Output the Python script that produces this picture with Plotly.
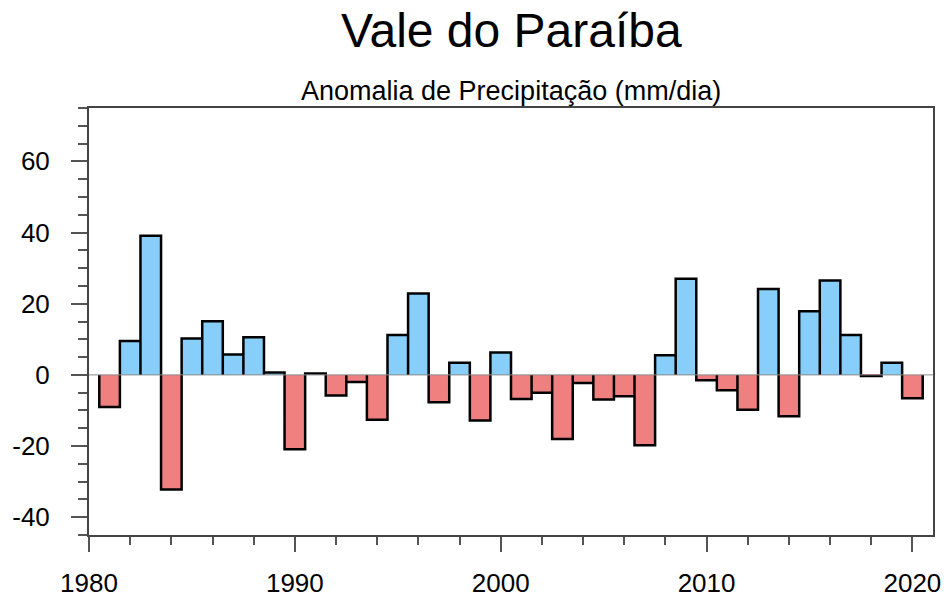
import plotly.graph_objects as go

# ---- data ----
years = list(range(1981, 2021))
anomaly = [
    -9.0, 9.5, 39.1, -32.2, 10.2, 15.1, 5.7, 10.6, 0.7, -20.9,
    0.4, -5.8, -2.0, -12.6, 11.2, 22.9, -7.7, 3.4, -12.8, 6.3,
    -6.8, -5.0, -18.0, -2.3, -6.9, -6.0, -19.8, 5.5, 27.0, -1.5,
    -4.3, -9.8, 24.1, -11.6, 17.9, 26.5, 11.2, -0.3, 3.4, -6.6,
]
title_text = "Vale do Paraíba"
subtitle_text = "Anomalia de Precipitação (mm/dia)"
x_ticks = [1980, 1990, 2000, 2010, 2020]
y_ticks = [-40, -20, 0, 20, 40, 60]

POS_COLOR = "#87CEFA"
NEG_COLOR = "#F08080"
FONT = "Liberation Sans, Arial, Helvetica, sans-serif"

colors = [POS_COLOR if v >= 0 else NEG_COLOR for v in anomaly]

fig = go.Figure()
fig.add_trace(go.Bar(
    x=years, y=anomaly, width=1.0,
    marker=dict(color=colors, line=dict(width=0)),
    hoverinfo="x+y", showlegend=False,
))

# outline of bars (no bottom edge), built from the data
ox, oy = [], []
for yr, v in zip(years, anomaly):
    ox += [yr - 0.5, yr - 0.5, yr + 0.5, yr + 0.5]
    oy += [0, v, v, 0]
fig.add_trace(go.Scatter(
    x=ox, y=oy, mode="lines",
    line=dict(color="black", width=2.5),
    hoverinfo="skip", showlegend=False,
))

# reference line at zero (above the bars)
fig.add_shape(type="line", xref="paper", x0=0, x1=1, yref="y", y0=0, y1=0,
              line=dict(color="#888888", width=1), layer="above")

PLOT_TOP = 108
PLOT_H = 427

def paper_y(px):
    return 1 + (PLOT_TOP - px) / PLOT_H

fig.add_annotation(text=title_text, xref="paper", yref="paper", x=0.5, y=paper_y(30),
                   xanchor="center", yanchor="middle", showarrow=False,
                   font=dict(family=FONT, size=48, color="black"))
fig.add_annotation(text=subtitle_text, xref="paper", yref="paper", x=0.5, y=paper_y(91),
                   xanchor="center", yanchor="middle", showarrow=False,
                   font=dict(family=FONT, size=27, color="black"))

fig.update_layout(
    width=948, height=597,
    margin=dict(l=89, r=15, t=PLOT_TOP, b=62),
    paper_bgcolor="white", plot_bgcolor="white",
    bargap=0,
    font=dict(family=FONT, color="black"),
)
fig.update_xaxes(
    range=[1980, 2021], tickvals=x_ticks, ticktext=[str(t) for t in x_ticks],
    ticks="outside", ticklen=15, tickwidth=2, tickcolor="#555555",
    minor=dict(dtick=2, tick0=1980, ticks="outside", ticklen=8, tickwidth=1.5, tickcolor="#555555"),
    showline=True, linecolor="#444444", linewidth=2, mirror=True,
    showgrid=False, zeroline=False, automargin=False,
    tickfont=dict(family=FONT, size=26, color="black"),
    ticklabelstandoff=9,
)
fig.update_yaxes(
    range=[-45, 75], tickvals=y_ticks, ticktext=[str(t) for t in y_ticks],
    ticks="outside", ticklen=16, tickwidth=2, tickcolor="#555555",
    minor=dict(dtick=5, tick0=0, ticks="outside", ticklen=9, tickwidth=1.5, tickcolor="#555555"),
    showline=True, linecolor="#444444", linewidth=2, mirror=True,
    showgrid=False, zeroline=False, automargin=False,
    tickfont=dict(family=FONT, size=26, color="black"),
    ticklabelstandoff=16,
)

fig.write_html("out.html", config={"displayModeBar": False},
               post_script="document.body.style.margin='0px';")
